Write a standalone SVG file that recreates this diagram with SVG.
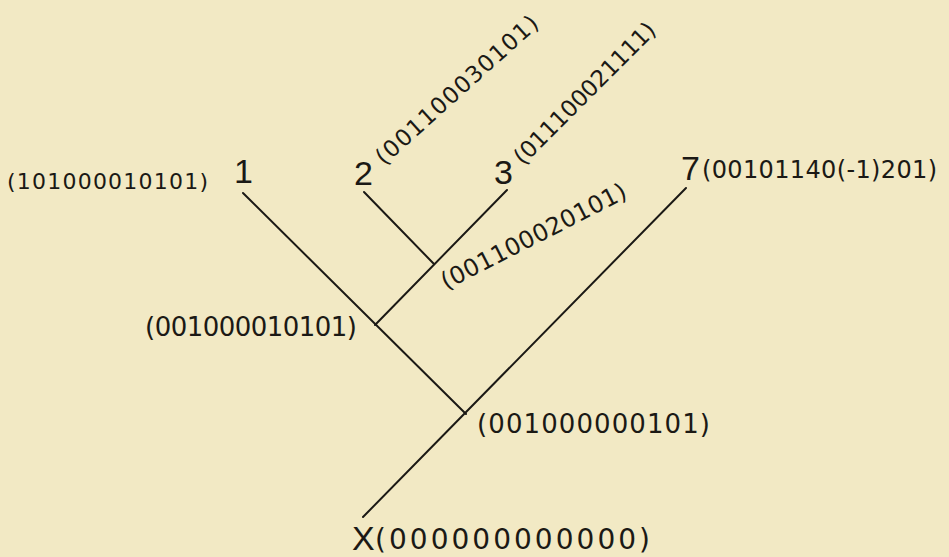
<svg xmlns="http://www.w3.org/2000/svg" width="949" height="557" viewBox="0 0 949 557">
<style>
.bg{fill:#f2e9c4}
.ln{stroke:#1b1915;stroke-width:2;fill:none;stroke-linecap:round}
.t{font-family:"Liberation Sans","Noto Sans",sans-serif;fill:#1b1915}
.c{font-family:"DejaVu Sans","Liberation Sans",sans-serif;fill:#1b1915}
.big{font-size:34px}
</style>
<rect class="bg" x="0" y="0" width="949" height="557"/>
<g id="connectors">
<line class="ln" x1="243" y1="193" x2="466" y2="414"/>
<line class="ln" x1="686" y1="188" x2="363" y2="517"/>
<line class="ln" x1="507" y1="190" x2="375" y2="325"/>
<line class="ln" x1="364" y1="192" x2="434" y2="264"/>
</g>
<g id="node-1">
<text class="c" x="7" y="189" font-size="22" textLength="201" lengthAdjust="spacing">(101000010101)</text>
<text class="t big" x="234" y="183">1</text>
</g>
<g id="node-2">
<text class="t big" x="354" y="185">2</text>
<text class="c" font-size="23" textLength="210" lengthAdjust="spacing" transform="translate(384,166) rotate(-42)">(001100030101)</text>
</g>
<g id="node-3">
<text class="t big" x="494" y="184">3</text>
<text class="c" font-size="23" textLength="190" lengthAdjust="spacing" transform="translate(523,166) rotate(-45)">(011100021111)</text>
</g>
<g id="node-7">
<text class="t big" x="681" y="180">7</text>
<text class="c" x="702" y="178" font-size="24" textLength="235" lengthAdjust="spacing">(00101140(-1)201)</text>
</g>
<g id="node-a">
<text class="c" font-size="24" textLength="205" lengthAdjust="spacing" transform="translate(446,290) rotate(-27)">(001100020101)</text>
</g>
<g id="node-b">
<text class="c" x="145" y="336" font-size="26" textLength="212" lengthAdjust="spacing">(001000010101)</text>
</g>
<g id="node-c">
<text class="c" x="477" y="433" font-size="26" textLength="233" lengthAdjust="spacing">(001000000101)</text>
</g>
<g id="node-x">
<text class="t big" x="352" y="550">X</text>
<text class="c" x="375" y="549" font-size="28" textLength="275" lengthAdjust="spacing">(000000000000)</text>
</g>
</svg>
